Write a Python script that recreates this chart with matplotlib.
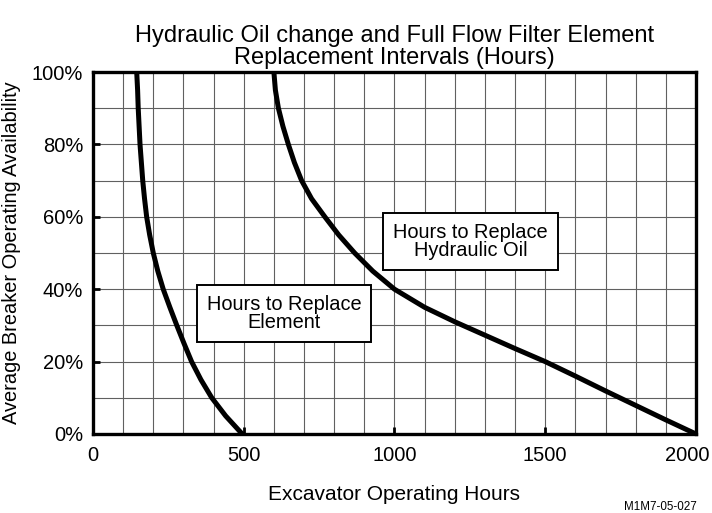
import matplotlib
matplotlib.use("Agg")
from matplotlib import pyplot as plt
from matplotlib.ticker import MultipleLocator, FuncFormatter

plt.rcParams['font.family'] = ['Liberation Sans', 'DejaVu Sans']

# availability (%) vs hours, element curve
element_pct = [100, 95, 90, 80, 70, 65, 60, 55, 50, 45, 40, 35, 30, 25, 20, 15, 10, 5, 0]
element_hours = [145, 148, 150, 156, 165, 171, 178, 188, 200, 215, 233, 255, 278, 302,
                 327, 358, 394, 440, 495]

# availability (%) vs hours, hydraulic oil curve
oil_pct = [100, 95, 90, 85, 80, 75, 70, 65, 60, 55, 50, 45, 40, 35, 31, 27.3,
           23.6, 20, 16, 11.9, 7.9, 3.9, 0]
oil_hours = [600, 605, 615, 630, 648, 668, 692, 725, 769, 815, 868, 928, 1000, 1100,
             1200, 1300, 1400, 1500, 1600, 1700, 1800, 1900, 2000]

hour_ticks = [0, 500, 1000, 1500, 2000]

#   set up figure
fig = plt.figure(figsize=(7.12, 5.13), dpi=100)
ax = fig.add_axes([0.1306, 0.154, 0.8469, 0.7056])

ax.plot(element_hours, element_pct, color='black', lw=3.6, solid_joinstyle='round')
ax.plot(oil_hours, oil_pct, color='black', lw=3.6, solid_joinstyle='round')

#    limits and grid
ax.set_xlim(0, 2000)
ax.set_ylim(0, 100)
ax.set_xticks(hour_ticks)
# last hour label is drawn separately, nudged left to stay on the page
ax.xaxis.set_major_formatter(FuncFormatter(lambda v, p: '' if v == hour_ticks[-1] else '%d' % v))
ax.xaxis.set_minor_locator(MultipleLocator(100))
ax.yaxis.set_major_locator(MultipleLocator(20))
ax.yaxis.set_minor_locator(MultipleLocator(10))
ax.yaxis.set_major_formatter(FuncFormatter(lambda v, p: '%d%%' % v))
ax.grid(True, which='both', color='#606060', lw=0.8)
ax.set_axisbelow(True)
ax.tick_params(which='major', direction='in', length=5, width=2, labelsize=14.5)
ax.tick_params(axis='x', pad=9)
ax.tick_params(axis='y', pad=7)
ax.tick_params(which='minor', length=0)
for s in ax.spines.values():
    s.set_linewidth(2.4)

ax.annotate('%d' % hour_ticks[-1], xy=(hour_ticks[-1], 0), xycoords=('data', 'axes fraction'),
            xytext=(-6.5, -9), textcoords='offset points', ha='center', va='top',
            fontsize=14.5)

ax.set_title('Hydraulic Oil change and Full Flow Filter Element\nReplacement Intervals (Hours)',
             fontsize=17, pad=6, linespacing=1.0)
ax.set_xlabel('Excavator Operating Hours', fontsize=15, labelpad=14)
ax.set_ylabel('Average Breaker Operating Availability', fontsize=14.4, labelpad=8)

box = dict(boxstyle='square,pad=0.5', fc='white', ec='black', lw=1.4)
ax.text(633, 33.3, 'Hours to Replace\nElement', ha='center', va='center',
        fontsize=14.4, bbox=box, linespacing=0.95)
ax.text(1252, 53.2, 'Hours to Replace\nHydraulic Oil', ha='center', va='center',
        fontsize=14.4, bbox=box, linespacing=0.95)

fig.text(0.979, 0.012, 'M1M7-05-027', ha='right', va='center', fontsize=8.4)

fig.savefig('out.png', dpi=100)
